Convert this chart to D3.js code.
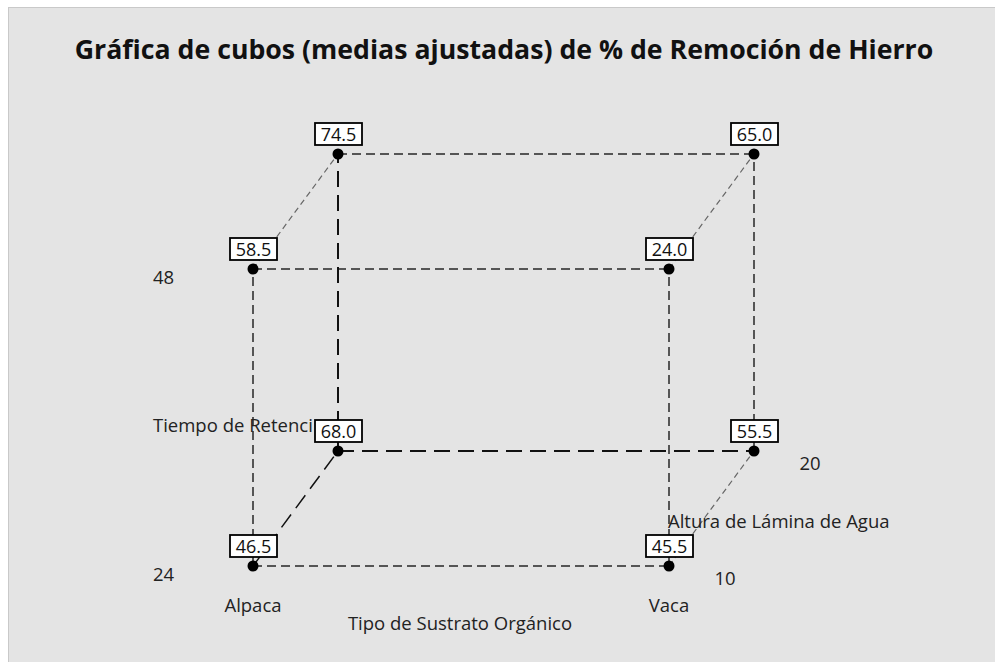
<!DOCTYPE html>
<html>
<head>
<meta charset="utf-8">
<script src="https://cdn.jsdelivr.net/npm/d3@7"></script>
<style>
  body { margin: 0; background: #fff; }
  svg { display: block; font-family: "Open Sans", "Noto Sans", sans-serif; }
</style>
</head>
<body>
<div id="chart"></div>
<script>
// Factor levels
const sustrato = ['Alpaca', 'Vaca'];
const tiempo = ['24', '48'];
const altura = ['10', '20'];
// Adjusted means, one per corner: [sustrato, tiempo, altura, media]
const cells = [
    ['Alpaca', '24', '10', 46.5],
    ['Vaca',   '24', '10', 45.5],
    ['Alpaca', '48', '10', 58.5],
    ['Vaca',   '48', '10', 24.0],
    ['Alpaca', '24', '20', 68.0],
    ['Vaca',   '24', '20', 55.5],
    ['Alpaca', '48', '20', 74.5],
    ['Vaca',   '48', '20', 65.0]
];

const width = 995, height = 662;
const svg = d3.select('#chart')
    .append('svg')
    .attr('width', width)
    .attr('height', height);

// Panel background
svg.append('rect')
    .attr('x', 8.5)
    .attr('y', 7.5)
    .attr('width', width - 8)
    .attr('height', height - 7)
    .attr('fill', '#e4e4e4')
    .attr('stroke', '#c9c9c9');

svg.append('text')
    .attr('x', 504)
    .attr('y', 59)
    .attr('text-anchor', 'middle')
    .attr('font-size', '26.7px')
    .attr('font-weight', 'bold')
    .attr('fill', '#111')
    .text('Gráfica de cubos (medias ajustadas) de % de Remoción de Hierro');

// Scales: front face plus an oblique depth offset
const x = d3.scalePoint().domain(sustrato).range([253, 669]);
const y = d3.scalePoint().domain(tiempo).range([566, 269]);
const dx = d3.scalePoint().domain(altura).range([0, 85]);
const dy = d3.scalePoint().domain(altura).range([0, -115]);
const px = (s, t, a) => x(s) + dx(a);
const py = (s, t, a) => y(t) + dy(a);

// Build the 12 cube edges: pairs of corners differing in one factor
const corners = cells.map(d => ({s: d[0], t: d[1], a: d[2], v: d[3]}));
const edges = [];
corners.forEach((c1, i) => {
    corners.forEach((c2, j) => {
        if (j <= i) return;
        const diff = (c1.s !== c2.s) + (c1.t !== c2.t) + (c1.a !== c2.a);
        if (diff === 1) edges.push({c1, c2, depth: c1.a !== c2.a});
    });
});
// Hidden corner: back, bottom, left
const isHidden = c => c.s === sustrato[0] && c.t === tiempo[0] && c.a === altura[1];

edges.forEach(e => {
    const hidden = isHidden(e.c1) || isHidden(e.c2);
    svg.append('line')
        .attr('x1', px(e.c1.s, e.c1.t, e.c1.a))
        .attr('y1', py(e.c1.s, e.c1.t, e.c1.a))
        .attr('x2', px(e.c2.s, e.c2.t, e.c2.a))
        .attr('y2', py(e.c2.s, e.c2.t, e.c2.a))
        .attr('stroke', hidden ? '#111' : (e.depth ? '#666' : '#555'))
        .attr('stroke-width', hidden ? (e.depth ? 1.5 : 2) : (e.depth ? 1.2 : 2))
        .attr('stroke-dasharray', hidden ? '16,8' : (e.depth ? '6,4' : '9,5'));
});

// Points
svg.selectAll('circle.pt')
    .data(corners)
    .enter()
    .append('circle')
    .attr('class', 'pt')
    .attr('cx', d => px(d.s, d.t, d.a))
    .attr('cy', d => py(d.s, d.t, d.a))
    .attr('r', 5.5)
    .attr('fill', '#000');

// Value boxes
const lab = svg.selectAll('g.lab')
    .data(corners)
    .enter()
    .append('g')
    .attr('class', 'lab')
    .attr('transform', d => `translate(${px(d.s, d.t, d.a)},${py(d.s, d.t, d.a)})`);
lab.append('rect')
    .attr('x', -23)
    .attr('y', -31)
    .attr('width', 47)
    .attr('height', 22)
    .attr('fill', '#fff')
    .attr('stroke', '#000')
    .attr('stroke-width', 1.8);
lab.append('text')
    .attr('x', 0.5)
    .attr('y', -13)
    .attr('text-anchor', 'middle')
    .attr('font-size', '18px')
    .attr('fill', '#111')
    .text(d => d.v.toFixed(1));

// Factor level labels
const txt = (xx, yy, s, anchor) => svg.append('text')
    .attr('x', xx)
    .attr('y', yy)
    .attr('text-anchor', anchor || 'start')
    .attr('font-size', '18.5px')
    .attr('fill', '#222')
    .text(s);

tiempo.forEach(t => txt(153, y(t) + 15, t));
txt(153, 432, 'Tiempo de Retenci');

sustrato.forEach(s => txt(x(s), y(tiempo[0]) + 46, s, 'middle'));
txt(460, 630, 'Tipo de Sustrato Orgánico', 'middle');

altura.forEach(a => txt(x(sustrato[1]) + dx(a) + 56, y(tiempo[0]) + dy(a) + 19, a, 'middle'));
txt(668, 528, 'Altura de Lámina de Agua');
</script>
</body>
</html>
